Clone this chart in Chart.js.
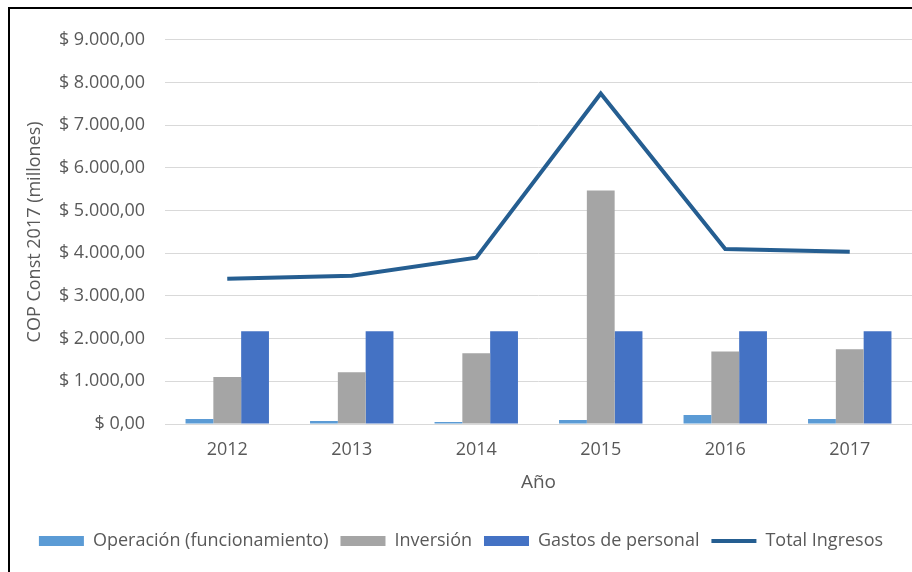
<!DOCTYPE html>
<html lang="es">
<head>
<meta charset="UTF-8">
<title>Gastos e ingresos 2012-2017</title>
<script src="https://cdn.jsdelivr.net/npm/chart.js@4.4.0/dist/chart.umd.min.js"></script>
<style>
  html, body { margin: 0; padding: 0; background: #fff; overflow: hidden; }
  #frame {
    position: absolute; left: 8px; top: 7px; width: 910px; height: 563px;
    border-left: 2px solid #000; border-top: 2px solid #000; border-bottom: 1px solid #d9d9d9;
  }
  #wrap { position: absolute; left: 10px; top: 9px; width: 902px; height: 560px; }
</style>
</head>
<body>
<div id="frame"></div>
<div id="wrap"><canvas id="chart"></canvas></div>
<script>
// data
const years = ['2012', '2013', '2014', '2015', '2016', '2017'];
const operacion = [117, 70, 47, 93, 210, 117];
const inversion = [1100, 1210, 1655, 5470, 1700, 1750];
const gastosPersonal = [2170, 2170, 2170, 2170, 2170, 2170];
const totalIngresos = [3400, 3475, 3895, 7740, 4100, 4035];

const FONT = 'Open Sans';
const GREY_TEXT = '#595959';

function pesos(v) {
  const parts = v.toFixed(2).split('.');
  const ent = parts[0].replace(/\B(?=(\d{3})+(?!\d))/g, '.');
  return '$ ' + ent + ',' + parts[1];
}

const ctx = document.getElementById('chart').getContext('2d');
new Chart(ctx, {
  data: {
    labels: years,
    datasets: [
      { type: 'bar', label: 'Operación (funcionamiento)', data: operacion, backgroundColor: '#5b9bd5', borderWidth: 0 },
      { type: 'bar', label: 'Inversión', data: inversion, backgroundColor: '#a5a5a5', borderWidth: 0 },
      { type: 'bar', label: 'Gastos de personal', data: gastosPersonal, backgroundColor: '#4472c4', borderWidth: 0 },
      { type: 'line', label: 'Total Ingresos', data: totalIngresos, borderColor: '#255e91', backgroundColor: '#255e91',
        borderWidth: 4, pointRadius: 0, tension: 0, fill: false }
    ]
  },
  options: {
    responsive: true,
    maintainAspectRatio: false,
    animation: false,
    layout: { padding: { top: 18, right: 0, bottom: 9, left: 0 } },
    datasets: { bar: { categoryPercentage: 0.67, barPercentage: 1.0 } },
    scales: {
      x: {
        grid: { display: false, drawTicks: false },
        border: { display: true, color: '#d9d9d9', width: 1 },
        ticks: { color: GREY_TEXT, font: { family: FONT, size: 18 }, padding: 15 },
        title: { display: true, text: 'Año', color: GREY_TEXT, font: { family: FONT, size: 19 }, padding: { top: 0, bottom: 26 } },
        afterFit: s => { s.height = 96; }
      },
      y: {
        min: 0, max: 9000,
        ticks: { stepSize: 1000, color: GREY_TEXT, font: { family: FONT, size: 18 }, padding: 20, callback: v => pesos(v) },
        grid: { color: '#d9d9d9', drawTicks: false },
        border: { display: false },
        title: { display: true, text: 'COP Const 2017 (millones)', color: GREY_TEXT, font: { family: FONT, size: 18 }, padding: { top: 14, bottom: 0 } },
        afterFit: s => { s.width = 155; }
      }
    },
    plugins: {
      tooltip: { enabled: false },
      legend: {
        position: 'bottom',
        labels: {
          color: GREY_TEXT,
          font: { family: FONT, size: 18 },
          usePointStyle: true,
          pointStyleWidth: 45,
          boxHeight: 10,
          padding: 12,
          generateLabels: chart => {
            const items = Chart.defaults.plugins.legend.labels.generateLabels(chart);
            items.forEach(it => {
              if (it.datasetIndex === 3) {
                it.pointStyle = 'line';
                it.lineWidth = 4;
                it.strokeStyle = '#255e91';
              } else {
                it.pointStyle = 'rect';
                it.lineWidth = 0;
              }
            });
            return items;
          }
        }
      }
    }
  }
});
</script>
</body>
</html>
